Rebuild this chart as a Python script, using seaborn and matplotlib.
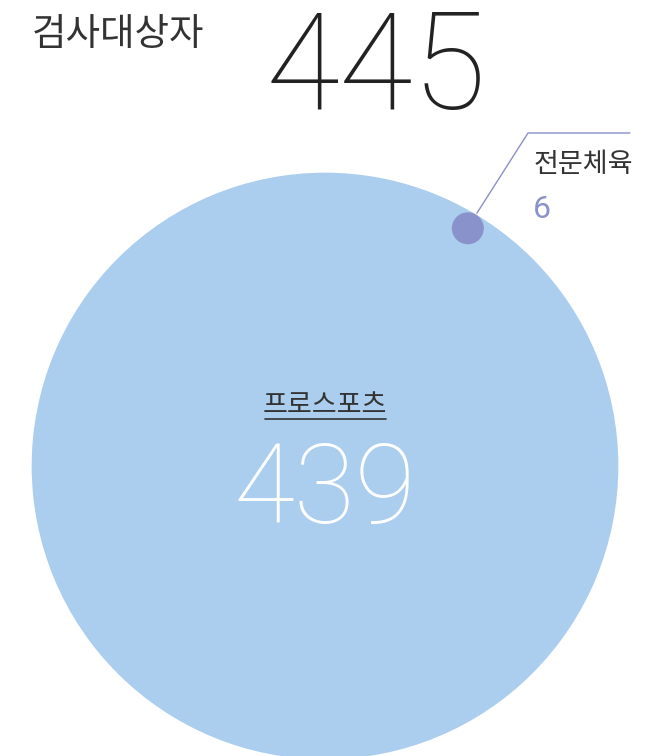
import numpy as np
import pandas as pd
import matplotlib
matplotlib.use("Agg")
import matplotlib.pyplot as plt
import seaborn as sns

# donnees
total_label = "검사대상자"
total_value = 445
groups = ["프로스포츠", "전문체육"]
values = [439, 6]
colors = ["#abcdee", "#8a92cb"]

sns.set_theme(style="white")
plt.rcParams['font.family'] = ['Noto Sans CJK KR', 'DejaVu Sans']

W, H = 670, 756
fig = plt.figure(figsize=(W / 100, H / 100), dpi=100)
ax = fig.add_axes([0, 0, 1, 1])
ax.set_xlim(0, W)
ax.set_ylim(H, 0)
ax.axis('off')

# rayon en pixels: proportionnel a la racine de la valeur, minimum pour les petits
k = 14.0
r_min = 16
radii = [k * np.sqrt(v) if v > 50 else r_min for v in values]
cx, cy = 325, 466
ang = np.deg2rad(59)
d = radii[0] - radii[1]
xs = [cx, cx + d * np.cos(ang)]
ys = [cy, cy - d * np.sin(ang)]

px2pt = 72 / 100
sizes = [(2 * r * px2pt) ** 2 for r in radii]
df = pd.DataFrame({'x': xs, 'y': ys, 'group': groups})
sns.scatterplot(data=df, x='x', y='y', hue='group', palette=colors,
                s=sizes, linewidth=0, legend=False, ax=ax, zorder=2)

num_font = ['Roboto', 'DejaVu Sans']

# titre
ax.text(32, 34, total_label, fontsize=27, color='#333333', va='center', ha='left',
        fontweight='light')
ax.text(376, 71, str(total_value), fontsize=97, color='#222222', va='center',
        ha='center', family=num_font, fontweight='light')

# etiquette grande bulle
ax.text(cx, 406, groups[0], fontsize=19.5, color='#333333', ha='center', va='center')
ax.plot([265, 386], [419, 419], color='#333333', lw=1.2, zorder=3)
ax.text(cx, 492, str(values[0]), fontsize=80, color='white', ha='center', va='center',
        family=num_font, fontweight='light')

# ligne de rappel petite bulle
ax.plot([xs[1] + 9, 528, 630], [ys[1] - 15, 133, 133], color='#8a8fcb', lw=1, zorder=1)
ax.text(534, 165, groups[1], fontsize=19.5, color='#333333', ha='left', va='center')
ax.text(533, 210, str(values[1]), fontsize=23, color='#8a92cb', ha='left', va='center',
        family=num_font)

plt.savefig('out.png', dpi=100)
